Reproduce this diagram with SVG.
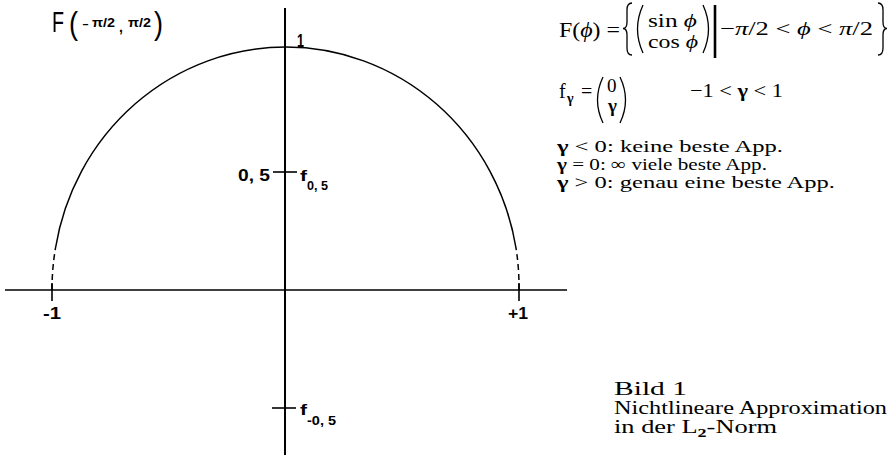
<svg xmlns="http://www.w3.org/2000/svg" width="893" height="457" viewBox="0 0 893 457">
<style>
.ax{stroke:#000;fill:none}
.ln{stroke:#000;fill:none;stroke-width:1.5}
.dl{stroke:#000;fill:none;stroke-width:1.3}
.ss{font-family:"Liberation Sans",Arial,sans-serif;fill:#000}
.sb{font-family:"Liberation Sans",Arial,sans-serif;font-weight:bold;fill:#000}
.sf{font-family:"Liberation Serif","Times New Roman",serif;fill:#000}
.g{font-weight:bold}
</style>
<rect width="893" height="457" fill="#fff"/>
<g id="title">
<text class="ss" x="52" y="32" font-size="29" textLength="12" lengthAdjust="spacingAndGlyphs">F</text>
<text class="ss" x="69" y="34" font-size="32" textLength="9" lengthAdjust="spacingAndGlyphs">(</text>
<text class="ss" x="82" y="29" font-size="16" textLength="7" lengthAdjust="spacingAndGlyphs">-</text>
<text class="sb" x="92" y="27" font-size="13" textLength="23" lengthAdjust="spacingAndGlyphs">π/2</text>
<text class="sb" x="119" y="32" font-size="14">,</text>
<text class="sb" x="128" y="27" font-size="13" textLength="23" lengthAdjust="spacingAndGlyphs">π/2</text>
<text class="ss" x="154" y="34" font-size="32" textLength="9" lengthAdjust="spacingAndGlyphs">)</text>
</g>
<g id="axes">
<line class="ax" x1="285" y1="8" x2="285" y2="455" stroke-width="2"/>
<line class="ax" x1="5" y1="290" x2="567" y2="290" stroke-width="1.6"/>
</g>
<g id="curve">
<path class="ln" d="M55.5,248 A233.5,241 0 0 1 516,248"/>
<path class="ln" stroke-dasharray="6,4" d="M52,290 A233.5,241 0 0 1 55.5,248"/>
<path class="ln" stroke-dasharray="6,4" d="M519,290 A233.5,241 0 0 0 516,248"/>
</g>
<g id="ticks">
<line class="ax" stroke-width="1.6" x1="52" y1="283" x2="52" y2="301"/>
<line class="ax" stroke-width="1.6" x1="519" y1="283" x2="519" y2="301"/>
<line class="ax" stroke-width="1.6" x1="273" y1="172" x2="297" y2="172"/>
<line class="ax" stroke-width="1.6" x1="272" y1="408" x2="296" y2="408"/>
</g>
<g id="labels">
<text class="sb" x="297" y="47" font-size="18" textLength="7" lengthAdjust="spacingAndGlyphs">1</text>
<text class="sb" x="43" y="319" font-size="16" textLength="18" lengthAdjust="spacingAndGlyphs">-1</text>
<text class="sb" x="508" y="319" font-size="16" textLength="20" lengthAdjust="spacingAndGlyphs">+1</text>
<text class="sb" x="238" y="181" font-size="16" textLength="32" lengthAdjust="spacingAndGlyphs">0, 5</text>
<text class="sb" x="300" y="181" font-size="15" textLength="7" lengthAdjust="spacingAndGlyphs">f</text>
<text class="sb" x="307" y="190" font-size="12" textLength="21" lengthAdjust="spacingAndGlyphs">0, 5</text>
<text class="sb" x="300" y="415" font-size="15" textLength="7" lengthAdjust="spacingAndGlyphs">f</text>
<text class="sb" x="307" y="425" font-size="12" textLength="29" lengthAdjust="spacingAndGlyphs">-0, 5</text>
</g>
<g id="formula">
<text class="sf" x="559" y="37" font-size="20" textLength="61" lengthAdjust="spacingAndGlyphs">F(<tspan font-style="italic">ϕ</tspan>) =</text>
<path class="dl" d="M632,3 Q627,3 627,10 L627,22 Q627,28.5 623,28.5 Q627,28.5 627,35 L627,48 Q627,55 632,55"/>
<path class="dl" d="M643,5 Q632,29 643,53"/>
<text class="sf" x="648" y="27" font-size="19" textLength="49" lengthAdjust="spacingAndGlyphs">sin <tspan font-style="italic">ϕ</tspan></text>
<text class="sf" x="648" y="48" font-size="19" textLength="50" lengthAdjust="spacingAndGlyphs">cos <tspan font-style="italic">ϕ</tspan></text>
<path class="dl" d="M703,5 Q714,29 703,53"/>
<line class="ax" stroke-width="2.6" x1="715" y1="5" x2="715" y2="58"/>
<text class="sf" x="720" y="35" font-size="19" textLength="153" lengthAdjust="spacingAndGlyphs">−<tspan font-style="italic">π</tspan>/2 &lt; <tspan font-style="italic">ϕ</tspan> &lt; <tspan font-style="italic">π</tspan>/2</text>
<path class="dl" d="M878,3 Q883,3 883,10 L883,22 Q883,28.5 887,28.5 Q883,28.5 883,35 L883,48 Q883,55 878,55"/>
<text class="sf" x="559" y="98" font-size="20">f</text>
<text class="sf g" x="567" y="103" font-size="14">γ</text>
<text class="sf" x="581" y="98" font-size="20">=</text>
<path class="dl" d="M603,77 Q592,100 603,123"/>
<text class="sf" x="607" y="92" font-size="19">0</text>
<text class="sf g" x="608" y="112" font-size="19">γ</text>
<path class="dl" d="M620,77 Q631,100 620,123"/>
<text class="sf" x="690" y="97" font-size="19" textLength="93" lengthAdjust="spacingAndGlyphs">−1 &lt; <tspan class="g">γ</tspan> &lt; 1</text>
</g>
<g id="cases">
<text class="sf" x="557" y="152" font-size="17" textLength="226" lengthAdjust="spacingAndGlyphs"><tspan class="g">γ</tspan> &lt; 0: keine beste App.</text>
<text class="sf" x="557" y="170" font-size="17" textLength="210" lengthAdjust="spacingAndGlyphs"><tspan class="g">γ</tspan> = 0: ∞ viele beste App.</text>
<text class="sf" x="557" y="188" font-size="17" textLength="278" lengthAdjust="spacingAndGlyphs"><tspan class="g">γ</tspan> &gt; 0: genau eine beste App.</text>
</g>
<g id="caption">
<text class="sf" x="614" y="395" font-size="19" textLength="73" lengthAdjust="spacingAndGlyphs">Bild 1</text>
<text class="sf" x="614" y="414" font-size="19" textLength="273" lengthAdjust="spacingAndGlyphs">Nichtlineare Approximation</text>
<text class="sf" x="614" y="433" font-size="19" textLength="163" lengthAdjust="spacingAndGlyphs">in der L<tspan class="g" font-size="13" dy="4">2</tspan><tspan dy="-4">-Norm</tspan></text>
</g>
</svg>
